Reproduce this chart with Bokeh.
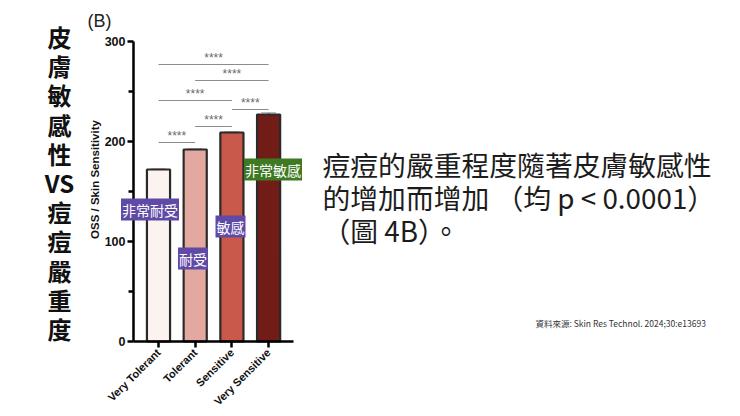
import math
from bokeh.plotting import figure
from bokeh.models import Range1d, FixedTicker, Label, LinearAxis
from bokeh.core.properties import value
from bokeh.embed import file_html
from bokeh.resources import INLINE

# ---------------- data ----------------
categories = ["Very Tolerant", "Tolerant", "Sensitive", "Very Sensitive"]
oss_values = [172, 192, 209, 227]
oss_errors = [1.0, 1.0, 1.0, 1.5]
bar_colors = ["#fcf3f1", "#e3a9a1", "#c9594a", "#711c17"]
zh_labels = ["非常耐受", "耐受", "敏感", "非常敏感"]
zh_label_colors = ["#5f4aa6", "#5f4aa6", "#5f4aa6", "#3e7a22"]
bracket_from = [0, 1, 0, 2, 1, 0]
bracket_to = [3, 3, 2, 3, 2, 1]
bracket_y = [277, 261, 241, 232, 215, 199]
bracket_text = ["****", "****", "****", "****", "****", "****"]
y_ticks = [0, 100, 200, 300]
y_minor_ticks = [50, 150, 250]
y_axis_title = "OSS / Skin Sensitivity"
panel_tag = "(B)"
title_chars = ["皮", "膚", "敏", "感", "性", "VS", "痘", "痘", "嚴", "重", "度"]
body_lines = ["痘痘的嚴重程度隨著皮膚敏感性", "的增加而增加 （均 p < 0.0001）", "（圖 4B）。"]
source_text = "資料來源: Skin Res Technol. 2024;30:e13693"

# ---------------- layout ----------------
W, H = 740, 416
AX_L, AX_R, AX_T, AX_B = 133, 293, 41, 341   # chart axes box in window pixels
CAT0_X, CAT_STEP = 158, 36.7                 # first category centre, spacing (px)
PX_PER_UNIT_Y = (AX_B - AX_T) / 300.0


def px2x(X):
    return (X - CAT0_X) / CAT_STEP


def px2y(Y):
    return (AX_B - Y) / PX_PER_UNIT_Y


p = figure(width=W, height=H, output_backend="svg", toolbar_location=None,
           x_range=Range1d(px2x(0), px2x(W)), y_range=Range1d(px2y(H), px2y(0)),
           x_axis_type=None, y_axis_type=None,
           min_border=0, min_border_left=0, min_border_right=0,
           min_border_top=0, min_border_bottom=0)
p.outline_line_color = None
p.grid.visible = False
p.background_fill_color = "white"
p.border_fill_color = "white"

xs = list(range(len(categories)))

# bars
p.vbar(x=xs, top=oss_values, width=0.63, bottom=0, fill_color=bar_colors,
       line_color="#2a2a2a", line_width=2.2)

# error bars
err_top = [v + e for v, e in zip(oss_values, oss_errors)]
p.segment(x0=xs, y0=oss_values, x1=xs, y1=err_top, line_color="#2a2a2a", line_width=1.2)
p.segment(x0=[x - 0.2 for x in xs], y0=err_top, x1=[x + 0.2 for x in xs], y1=err_top,
          line_color="#777777", line_width=1.2)

# significance brackets
p.segment(x0=bracket_from, y0=bracket_y, x1=bracket_to, y1=bracket_y,
          line_color="#8c8c8c", line_width=1)
p.text(x=[(a + b) / 2 for a, b in zip(bracket_from, bracket_to)],
       y=[y + 7 for y in bracket_y], text=bracket_text,
       text_font=value("Liberation Sans"), text_font_size="12px",
       text_color="#6a6a6a", text_align="center", text_baseline="middle")

# axes (drawn at fixed locations inside the full-canvas frame)
yax = LinearAxis(fixed_location=px2x(AX_L), bounds=(0, 300))
yax.ticker = FixedTicker(ticks=y_ticks, minor_ticks=y_minor_ticks)
yax.axis_line_width = 2.5
yax.major_tick_line_width = 2.5
yax.minor_tick_line_width = 2.5
yax.major_tick_out = 6
yax.major_tick_in = 0
yax.minor_tick_out = 5
yax.minor_tick_in = 0
yax.major_label_standoff = 2
yax.major_label_text_font = "Liberation Sans"
yax.major_label_text_font_style = "bold"
yax.major_label_text_font_size = "12.5px"
yax.major_label_text_color = "#111111"
p.add_layout(yax, "left")

xax = LinearAxis(fixed_location=0, bounds=(px2x(AX_L), px2x(AX_R)))
xax.ticker = FixedTicker(ticks=xs, minor_ticks=[])
xax.major_label_overrides = {i: c for i, c in enumerate(categories)}
xax.major_label_orientation = math.pi / 4
xax.axis_line_width = 2.5
xax.major_tick_line_width = 2.5
xax.major_tick_out = 6
xax.major_tick_in = 0
xax.minor_tick_out = 0
xax.major_label_standoff = 3
xax.major_label_text_font = "Liberation Sans"
xax.major_label_text_font_style = "bold"
xax.major_label_text_font_size = "11px"
xax.major_label_text_color = "#111111"
p.add_layout(xax, "below")

# chinese tags on bars
tag_pos = [(149.5, 209), (192.5, 258), (230, 226), (272.5, 169)]
for txt, col, (X, Y) in zip(zh_labels, zh_label_colors, tag_pos):
    p.add_layout(Label(x=px2x(X), y=px2y(Y), text=txt, text_align="center",
                       text_baseline="middle", text_font="Noto Sans CJK TC",
                       text_font_size="14px", text_color="white",
                       background_fill_color=col, padding=1))

# y-axis title
p.add_layout(Label(x=px2x(94), y=px2y(179), text=y_axis_title, angle=math.pi / 2,
                   text_align="center", text_baseline="middle",
                   text_font="Liberation Sans", text_font_style="bold",
                   text_font_size="11.5px", text_color="#111111"))

# panel tag
p.add_layout(Label(x=px2x(87), y=px2y(20), text=panel_tag, text_align="left",
                   text_baseline="middle", text_font="Liberation Sans",
                   text_font_size="18px", text_color="#222222"))

# vertical title
for i, ch in enumerate(title_chars):
    p.add_layout(Label(x=px2x(59), y=px2y(36 + 29.2 * i), text=ch,
                       text_align="center", text_baseline="middle",
                       text_font="Noto Sans CJK TC", text_font_style="bold",
                       text_font_size="24px", text_color="#111111"))

# body text
for i, line in enumerate(body_lines):
    p.add_layout(Label(x=px2x(322), y=px2y(163 + 33 * i), text=line,
                       text_align="left", text_baseline="middle",
                       text_font="Noto Sans CJK TC", text_font_size="27.8px",
                       text_color="#1c1c1c"))

# source
p.add_layout(Label(x=px2x(535), y=px2y(322), text=source_text, text_align="left",
                   text_baseline="middle", text_font="Noto Sans CJK TC",
                   text_font_size="8.5px", text_color="#333333"))

open("out.html", "w").write(file_html(p, INLINE))
